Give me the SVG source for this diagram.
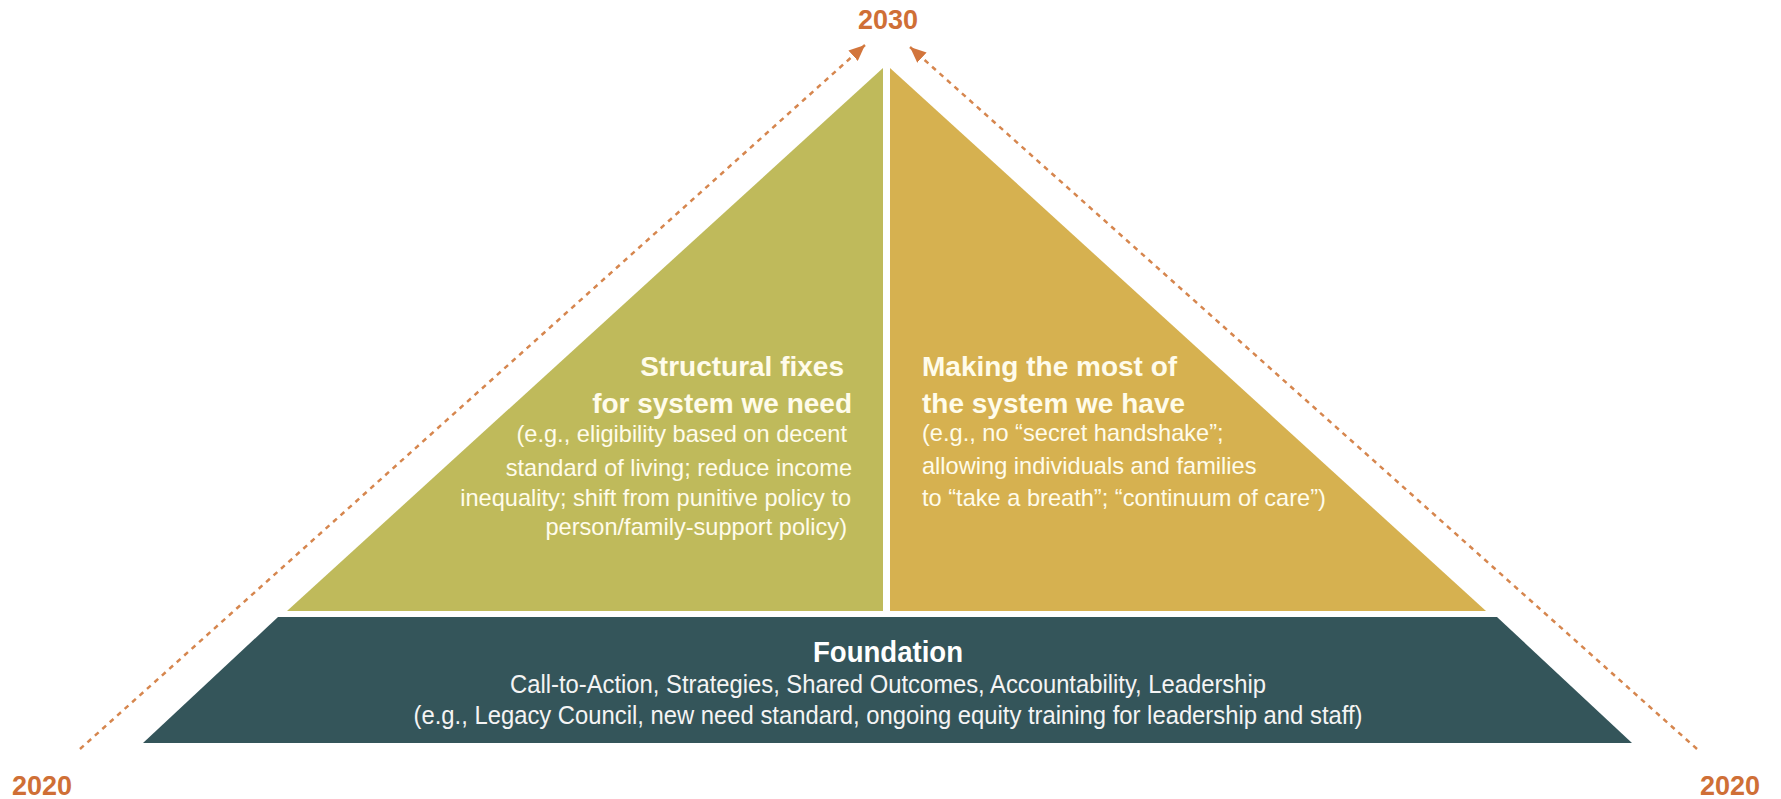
<svg xmlns="http://www.w3.org/2000/svg" width="1781" height="799" viewBox="0 0 1781 799">
<defs>
<marker id="arr" viewBox="0 0 16 14" refX="16" refY="7" markerWidth="16" markerHeight="14" markerUnits="userSpaceOnUse" orient="auto">
<path d="M0,0 L16,7 L0,14 z" fill="#D2753C"/>
</marker>
<style>
.year{font-family:"Liberation Sans",Arial,sans-serif;font-weight:bold;font-size:27px;fill:#CF6F36}
.head{font-family:"Liberation Sans",Arial,sans-serif;font-weight:bold;font-size:28px;fill:#FFFCEB}
.body{font-family:"Liberation Sans",Arial,sans-serif;font-size:23.6px;fill:#FFFCEB}
.fhead{font-family:"Liberation Sans",Arial,sans-serif;font-weight:bold;font-size:29px;fill:#FFFFFF}
.fbody{font-family:"Liberation Sans",Arial,sans-serif;font-size:26px;fill:#F4F4F4}
.dash{stroke:#D6864E;stroke-width:2.5;stroke-dasharray:5 5;fill:none}
</style>
</defs>
<rect width="1781" height="799" fill="#FFFFFF"/>
<g id="connectors">
<line class="dash" x1="80" y1="749" x2="865" y2="45" marker-end="url(#arr)"/>
<line class="dash" x1="1697" y1="749" x2="910" y2="47" marker-end="url(#arr)"/>
</g>
<g id="year-2030"><text class="year" x="888" y="29" text-anchor="middle">2030</text></g>
<g id="year-2020-left"><text class="year" x="12" y="795">2020</text></g>
<g id="year-2020-right"><text class="year" x="1700" y="795">2020</text></g>
<g id="structural">
<polygon points="883,68 883,611 287,611" fill="#BFBA5B"/>
<text class="head" x="844" y="376" text-anchor="end">Structural fixes</text>
<text class="head" x="852" y="413" text-anchor="end">for system we need</text>
<text class="body" x="847" y="442" text-anchor="end">(e.g., eligibility based on decent</text>
<text class="body" x="852" y="476" text-anchor="end">standard of living; reduce income</text>
<text class="body" x="851" y="506" text-anchor="end">inequality; shift from punitive policy to</text>
<text class="body" x="847" y="535" text-anchor="end">person/family-support policy)</text>
</g>
<g id="making">
<polygon points="890,68 890,611 1486,611" fill="#D6B150"/>
<text class="head" x="922" y="376">Making the most of</text>
<text class="head" x="922" y="413">the system we have</text>
<text class="body" x="922" y="441">(e.g., no “secret handshake”;</text>
<text class="body" x="922" y="474">allowing individuals and families</text>
<text class="body" x="922" y="506">to “take a breath”; “continuum of care”)</text>
</g>
<g id="foundation">
<polygon points="278,617 1497,617 1632,743 143,743" fill="#34555A"/>
<text class="fhead" x="888" y="662" text-anchor="middle" textLength="150" lengthAdjust="spacingAndGlyphs">Foundation</text>
<text class="fbody" x="888" y="693" text-anchor="middle" textLength="756" lengthAdjust="spacingAndGlyphs">Call-to-Action, Strategies, Shared Outcomes, Accountability, Leadership</text>
<text class="fbody" x="888" y="724" text-anchor="middle" textLength="949" lengthAdjust="spacingAndGlyphs">(e.g., Legacy Council, new need standard, ongoing equity training for leadership and staff)</text>
</g>
</svg>
